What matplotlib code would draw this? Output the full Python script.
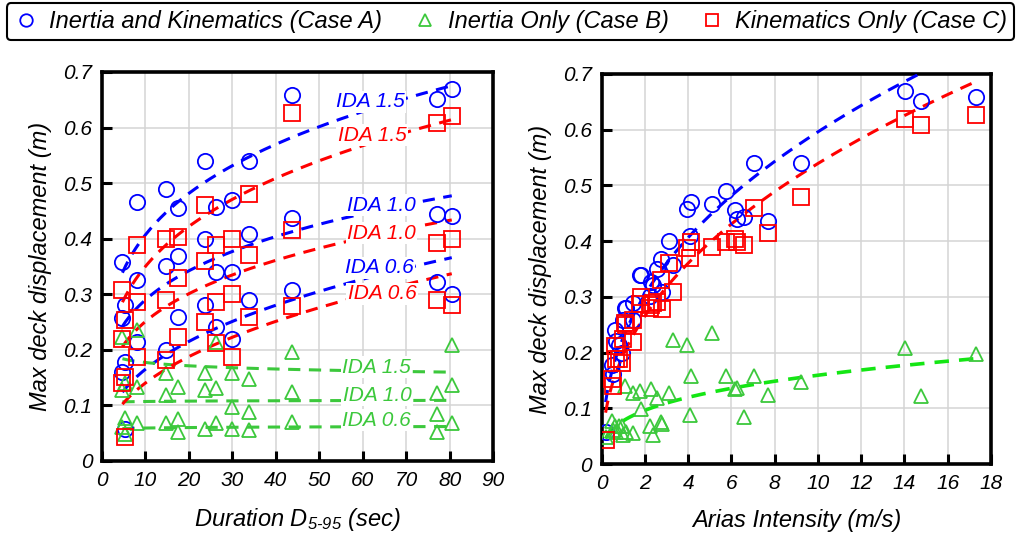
import numpy as np
import matplotlib.pyplot as plt
from matplotlib.lines import Line2D
from matplotlib.ticker import FuncFormatter

plt.rcParams['font.family'] = ['Liberation Sans', 'DejaVu Sans']
plt.rcParams['font.style'] = 'italic'
plt.rcParams['mathtext.fontset'] = 'custom'
plt.rcParams['mathtext.rm'] = 'Liberation Sans:italic'
plt.rcParams['mathtext.it'] = 'Liberation Sans:italic'

# significant duration D5-95 of each record (sec)
duration = [4.7, 5.3, 8.15, 14.8, 17.4, 23.8, 26.2, 29.9, 33.8, 43.8, 77.0, 80.5]

# Arias intensity of each record scaled to IDA 0.6 / 1.0 / 1.5 (m/s)
arias_06 = [0.53, 0.18, 0.82, 0.92, 0.98, 1.12, 0.63, 0.66, 1.47, 2.77, 2.36, 2.25]
arias_10 = [1.47, 0.49, 2.27, 2.55, 2.73, 3.12, 1.76, 1.84, 4.09, 7.70, 6.56, 6.24]
arias_15 = [3.30, 1.10, 5.10, 5.74, 6.15, 7.03, 3.95, 4.15, 9.20, 17.33, 14.77, 14.03]

# max deck displacement (m), Case A: inertia and kinematics
case_a_06 = [0.161, 0.058, 0.214, 0.200, 0.259, 0.280, 0.241, 0.220, 0.289, 0.308, 0.322, 0.301]
case_a_10 = [0.258, 0.178, 0.326, 0.350, 0.368, 0.400, 0.340, 0.340, 0.409, 0.437, 0.444, 0.440]
case_a_15 = [0.358, 0.280, 0.466, 0.490, 0.456, 0.540, 0.457, 0.470, 0.540, 0.659, 0.652, 0.670]

# Case B: inertia only
case_b_06 = [0.061, 0.049, 0.068, 0.068, 0.052, 0.058, 0.068, 0.058, 0.056, 0.071, 0.052, 0.068]
case_b_10 = [0.128, 0.077, 0.134, 0.118, 0.076, 0.128, 0.131, 0.098, 0.088, 0.124, 0.085, 0.137]
case_b_15 = [0.223, 0.140, 0.235, 0.158, 0.134, 0.158, 0.214, 0.158, 0.148, 0.197, 0.122, 0.208]

# Case C: kinematics only
case_c_06 = [0.140, 0.043, 0.188, 0.181, 0.224, 0.250, 0.212, 0.188, 0.259, 0.279, 0.289, 0.280]
case_c_10 = [0.219, 0.152, 0.286, 0.290, 0.330, 0.360, 0.287, 0.300, 0.370, 0.415, 0.393, 0.399]
case_c_15 = [0.308, 0.253, 0.389, 0.399, 0.403, 0.460, 0.388, 0.399, 0.480, 0.627, 0.609, 0.620]

ida_labels = ['IDA 0.6', 'IDA 1.0', 'IDA 1.5']
legend_labels = ['Inertia and Kinematics (Case A)', 'Inertia Only (Case B)',
                 'Kinematics Only (Case C)']

BLUE = '#0000ff'
RED = '#ff0000'
GREEN = '#3cc83c'
LIME = '#14e614'
DASH = (0, (4, 2.8))


def power_fit(x, y):
    # y = a * x^b, fitted in log-log space
    b, ln_a = np.polyfit(np.log(x), np.log(y), 1)
    xs = np.linspace(min(x), max(x), 200)
    return xs, np.exp(ln_a) * xs ** b


def style_axes(ax, xmax, xstep, xlabel):
    ax.set_xlim(0, xmax)
    ax.set_ylim(0, 0.7)
    ax.set_xticks(np.arange(0, xmax + 0.01, xstep))
    ax.set_yticks(np.arange(0, 0.71, 0.1))
    ax.yaxis.set_major_formatter(FuncFormatter(lambda v, _: '0' if abs(v) < 1e-9 else f'{v:.1f}'))
    ax.xaxis.set_major_formatter(FuncFormatter(lambda v, _: f'{v:g}'))
    ax.grid(True, color='#d4d4d4', lw=1.1)
    ax.set_axisbelow(True)
    ax.tick_params(direction='in', length=7, width=2.2, labelsize=15, pad=7,
                   top=False, right=False)
    for s in ax.spines.values():
        s.set_linewidth(2.6)
    ax.set_xlabel(xlabel, fontsize=17, labelpad=12)
    ax.set_ylabel('Max deck displacement (m)', fontsize=17, labelpad=8)


def scatter(ax, x, y, marker, color, ms):
    ax.plot(x, y, ls='none', marker=marker, ms=ms, mfc='none', mec=color,
            mew=1.3, zorder=4)


fig = plt.figure(figsize=(10.21, 5.4), dpi=100)
ax1 = fig.add_axes([0.0999, 0.1463, 0.383, 0.7204])
ax2 = fig.add_axes([0.5893, 0.1407, 0.3813, 0.7223])

# --- left: displacement vs duration, one fit per IDA level ---
cases_left = [
    ([case_a_06, case_a_10, case_a_15], 'o', BLUE, BLUE),
    ([case_b_06, case_b_10, case_b_15], '^', GREEN, GREEN),
    ([case_c_06, case_c_10, case_c_15], 's', RED, RED),
]
for series, marker, mcolor, lcolor in cases_left:
    for y in series:
        xs, ys = power_fit(duration, y)
        ax1.plot(xs, ys, color=lcolor, lw=2.2, ls=DASH, zorder=3)
        scatter(ax1, duration, y, marker, mcolor, 11 if marker != '^' else 10)

# IDA level tags sitting on their trend lines
tag_pos = {
    BLUE: [(63.9, 0.348), (64.3, 0.460), (61.8, 0.646)],
    RED: [(64.5, 0.301), (64.3, 0.410), (62.2, 0.586)],
    GREEN: [(63.2, 0.073), (63.3, 0.118), (63.2, 0.169)],
}
for color, positions in tag_pos.items():
    for label, (tx, ty) in zip(ida_labels, positions):
        ax1.text(tx, ty, label, color=color, fontsize=15, ha='center', va='center',
                 zorder=5, bbox=dict(facecolor='white', edgecolor='none', pad=1.0))

style_axes(ax1, 90, 10, r'Duration D$_{5\text{-}95}$ (sec)')

# --- right: displacement vs Arias intensity, one fit per case ---
arias_all = arias_06 + arias_10 + arias_15
cases_right = [
    (case_a_06 + case_a_10 + case_a_15, 'o', BLUE, BLUE, 2.2),
    (case_b_06 + case_b_10 + case_b_15, '^', GREEN, LIME, 2.6),
    (case_c_06 + case_c_10 + case_c_15, 's', RED, RED, 2.2),
]
for y, marker, mcolor, lcolor, lw in cases_right:
    xs, ys = power_fit(arias_all, y)
    ax2.plot(xs, ys, color=lcolor, lw=lw, ls=DASH, zorder=3)
    scatter(ax2, arias_all, y, marker, mcolor, 11 if marker != '^' else 10)

style_axes(ax2, 18, 2, 'Arias Intensity (m/s)')

handles = [
    Line2D([], [], ls='none', marker='o', ms=9, mfc='none', mec=BLUE, mew=1.3),
    Line2D([], [], ls='none', marker='^', ms=8, mfc='none', mec=GREEN, mew=1.3),
    Line2D([], [], ls='none', marker='s', ms=9, mfc='none', mec=RED, mew=1.3),
]
leg = fig.legend(handles, legend_labels, loc='upper center', bbox_to_anchor=(0.5, 0.994),
                 ncol=3, fontsize=17, frameon=True, fancybox=True, edgecolor='black',
                 handlelength=1.0, handletextpad=0.5, columnspacing=1.3, borderpad=0.3,
                 borderaxespad=0)
leg.get_frame().set_linewidth(1.5)
leg.get_frame().set_alpha(1)

fig.savefig('out.png', dpi=100)
